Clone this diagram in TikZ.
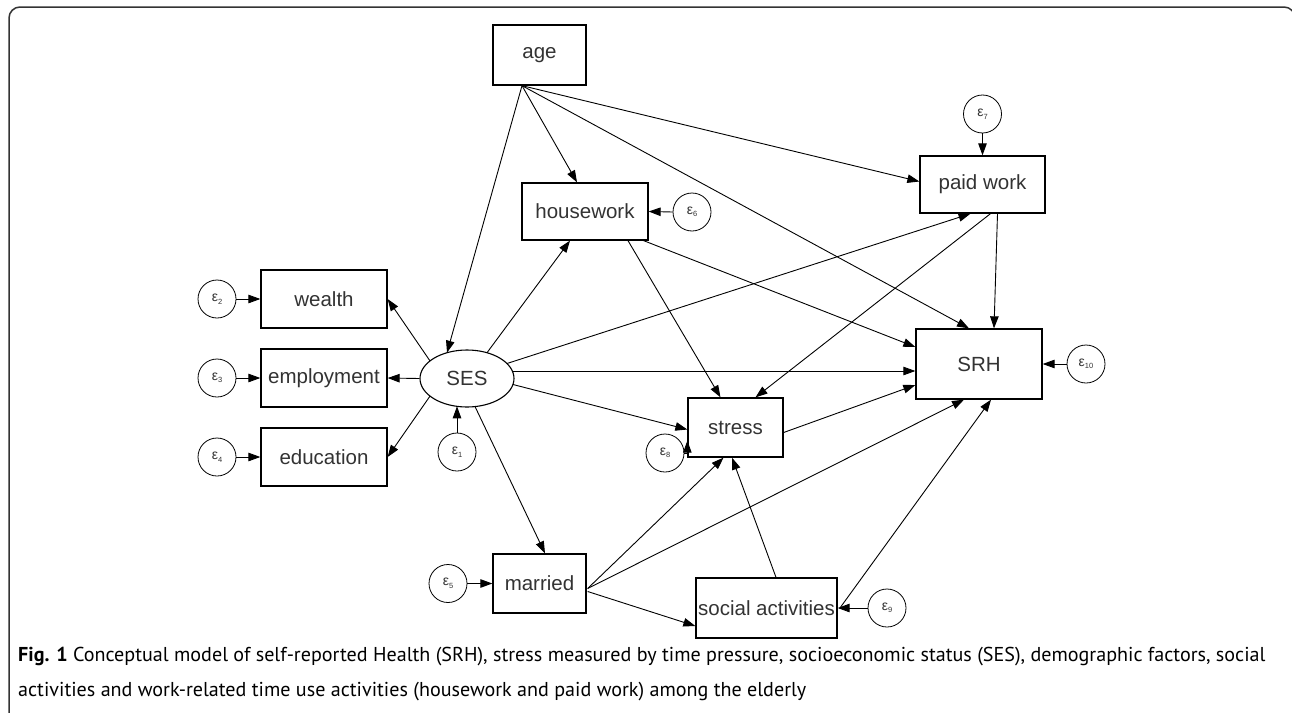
\documentclass[tikz,border=0pt]{standalone}
\usepackage{fontspec}
\setmainfont{Liberation Sans}
\newfontfamily\capfont{PT Sans}
\usetikzlibrary{arrows.meta,calc,shapes.geometric}
\definecolor{txtgray}{HTML}{333333}
\newcommand{\epslbl}[1]{{\fontsize{14}{14}\selectfont ε}\raisebox{-2.5pt}{\fontsize{7.5}{7.5}\selectfont #1}}
\begin{document}
\begin{tikzpicture}[x=1pt,y=-1pt,
  box/.style={draw=black, line width=1.3pt, inner sep=0pt, text=txtgray,
    font=\fontsize{20.5}{22}\selectfont},
  ses/.style={ellipse, draw=black, line width=1.1pt, inner sep=0pt, text=txtgray,
    font=\fontsize{20.5}{22}\selectfont, minimum width=94pt, minimum height=57pt},
  err/.style={circle, draw=black, line width=0.8pt, minimum size=38pt, inner sep=0pt,
    text=txtgray},
  arr/.style={draw=black, line width=0.9pt, -{Triangle[length=12pt,width=8.5pt]}},
  capt/.style={anchor=base west, inner sep=0pt, text=black,
    font=\capfont\fontsize{20.1}{24}\selectfont}]
\clip (0,0) rectangle (1292,712);
\fill[white] (0,0) rectangle (1292,712);
% frame
\draw[line width=1.5pt, black!80, rounded corners=11pt] (9,730) -- (9,7) -- (1295,7) -- (1295,730);

% main nodes
\node[box, minimum width=93pt, minimum height=60pt] (age) at (539.5,55) {age};
\node[box, minimum width=126pt, minimum height=57pt] (housework) at (585,211.5) {housework};
\node[box, minimum width=125pt, minimum height=57pt] (paidwork) at (982.5,184.5) {paid work};
\node[box, minimum width=126pt, minimum height=58pt] (wealth) at (324,299) {wealth};
\node[box, minimum width=126pt, minimum height=58pt] (employment) at (324,378) {employment};
\node[box, minimum width=126pt, minimum height=58pt] (education) at (324,457) {education};
\node[ses] (SES) at (467,378.5) {SES};
\node[box, minimum width=126pt, minimum height=70pt] (SRH) at (979,364) {SRH};
\node[box, minimum width=95pt, minimum height=59pt] (stress) at (735.5,427.5) {stress};
\node[box, minimum width=93pt, minimum height=59pt] (married) at (539.5,583.5) {married};
\node[box, minimum width=141pt, minimum height=60pt] (social) at (766.5,608) {social activities};

% error terms
\node[err] (e1) at (457,452) {\epslbl{1}};
\node[err] (e2) at (217,299) {\epslbl{2}};
\node[err] (e3) at (217,378) {\epslbl{3}};
\node[err] (e4) at (217,457) {\epslbl{4}};
\node[err] (e5) at (448,583.5) {\epslbl{5}};
\node[err] (e6) at (692,212) {\epslbl{6}};
\node[err] (e7) at (982.5,114) {\epslbl{7}};
\node[err] (e8) at (665,453) {\epslbl{8}};
\node[err] (e9) at (887,608) {\epslbl{9}};
\node[err] (e10) at (1086,364) {\epslbl{10}};

% connection points
\coordinate (A) at ($(age.south)+(-17.5,0)$);
\coordinate (M) at ($(married.east)+(1,5)$);
\coordinate (M2) at ($(married.east)+(1,8)$);

% age paths
\draw[arr] (A) -- ($(SES.center)+(-20,-25.8)$);
\draw[arr] (A) -- ($(housework.north)+(-8,0)$);
\draw[arr] (A) -- ($(paidwork.west)+(0,-3)$);
\draw[arr] (A) -- ($(SRH.north)+(-10,0)$);

% SES paths
\draw[arr] ($(SES.center)+(-37,-17.6)$) -- (wealth.east);
\draw[arr] (SES.west) -- (employment.east);
\draw[arr] ($(SES.center)+(-37,17.6)$) -- (education.east);
\draw[arr] ($(SES.center)+(20,-25.8)$) -- ($(housework.south)+(-15,0)$);
\draw[arr] ($(SES.center)+(40,-15)$) -- ($(paidwork.south)+(-12,0)$);
\draw[arr] ($(SES.center)+(45.3,-7.5)$) -- ($(SRH.west)+(0,7)$);
\draw[arr] ($(SES.center)+(46,6)$) -- ($(stress.west)+(0,2)$);
\draw[arr] ($(SES.center)+(8,28)$) -- ($(married.north)+(5.5,0)$);

% housework paths
\draw[arr] ($(housework.south)+(43,0)$) -- ($(stress.north)+(-15,0)$);
\draw[arr] ($(housework.south east)+(-5,0)$) -- ($(SRH.west)+(0,-17)$);

% paid work paths
\draw[arr] ($(paidwork.south)+(15,0)$) -- ($(SRH.north)+(15,0)$);
\draw[arr] ($(paidwork.south)+(8,0)$) -- ($(stress.north)+(20,0)$);

% stress, married, social paths
\draw[arr] ($(stress.east)+(0,5)$) -- ($(SRH.west)+(0,21)$);
\draw[arr] (M) -- ($(stress.south)+(-12,0)$);
\draw[arr] (M) -- ($(SRH.south)+(-15,0)$);
\draw[arr] (M2) -- ($(social.west)+(0,18)$);
\draw[arr] ($(social.north)+(9.5,0)$) -- ($(stress.south)+(-3.5,0)$);
\draw[arr] ($(social.east)+(3,-1)$) -- ($(SRH.south)+(12,0)$);

% error arrows
\draw[arr] (e1.north) -- ($(SES.center)+(-10,27.8)$);
\draw[arr] (e2.east) -- (wealth.west);
\draw[arr] (e3.east) -- (employment.west);
\draw[arr] (e4.east) -- (education.west);
\draw[arr] (e5.east) -- (married.west);
\draw[arr] (e6.west) -- (housework.east);
\draw[arr] (e7.south) -- (paidwork.north);
\draw[arr] (e8.east) -| ($(stress.south west)+(0,-17)$);
\draw[arr] (e9.west) -- (social.east);
\draw[arr] (e10.west) -- (SRH.east);

% caption
\node[capt] (cap1) at (18,661) {\textbf{Fig. 1} Conceptual model of self-reported Health (SRH), stress measured by time pressure, socioeconomic status (SES), demographic factors, social};
\node[capt] (cap2) at (18,696) {activities and work-related time use activities (housework and paid work) among the elderly};
\end{tikzpicture}
\end{document}
